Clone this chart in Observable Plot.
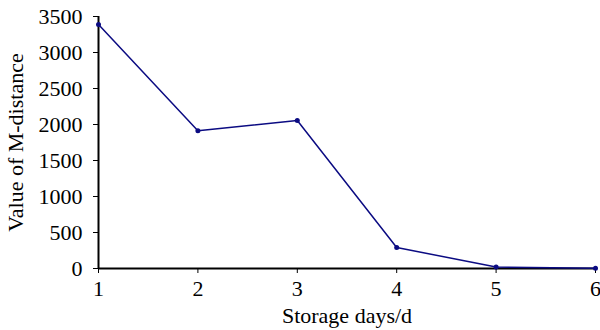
<!DOCTYPE html>
<html>
<head>
<meta charset="utf-8">
<script src="https://cdn.jsdelivr.net/npm/d3@7"></script>
<script src="https://cdn.jsdelivr.net/npm/@observablehq/plot@0.6"></script>
<style>
  html, body { margin: 0; padding: 0; background: #fff; }
  #chart svg { display: block; }
  #chart svg, #chart svg text { font-family: "Liberation Serif", "Times New Roman", serif !important; font-size: 22px !important; }
</style>
</head>
<body>
<div id="chart"></div>
<script>
const days = [1, 2, 3, 4, 5, 6];
const mDistance = [3390, 1912, 2056, 292, 20, 2];
const yTicks = [0, 500, 1000, 1500, 2000, 2500, 3000, 3500];
const xLabel = "Storage days/d";
const yLabel = "Value of M-distance";

const data = days.map((d, i) => ({day: d, value: mDistance[i]}));
const color = "#0b0b82";

const chart = Plot.plot({
  width: 600,
  height: 330,
  marginLeft: 98,
  marginRight: 5,
  marginTop: 16,
  marginBottom: 62,
  style: {background: "#fff", color: "#000"},
  x: {domain: [1, 6], ticks: days, tickFormat: d => String(d)},
  y: {domain: [0, 3500], ticks: yTicks, tickFormat: d => String(d)},
  marks: [
    Plot.axisX({ticks: days, tickFormat: d => String(d), tickSize: 5, tickPadding: 7,
      label: xLabel, labelAnchor: "center", labelArrow: "none", labelOffset: 54}),
    Plot.axisY({ticks: yTicks, tickFormat: d => String(d), tickSize: 5, tickPadding: 11,
      label: yLabel, labelAnchor: "center", labelArrow: "none", labelOffset: 91}),
    Plot.ruleX([1], {stroke: "#000", strokeWidth: 2}),
    Plot.ruleY([0], {stroke: "#000", strokeWidth: 2}),
    Plot.line(data, {x: "day", y: "value", stroke: color, strokeWidth: 1.5}),
    Plot.dot(data, {x: "day", y: "value", fill: color, r: 2.5})
  ]
});
document.getElementById("chart").appendChild(chart);
</script>
</body>
</html>
